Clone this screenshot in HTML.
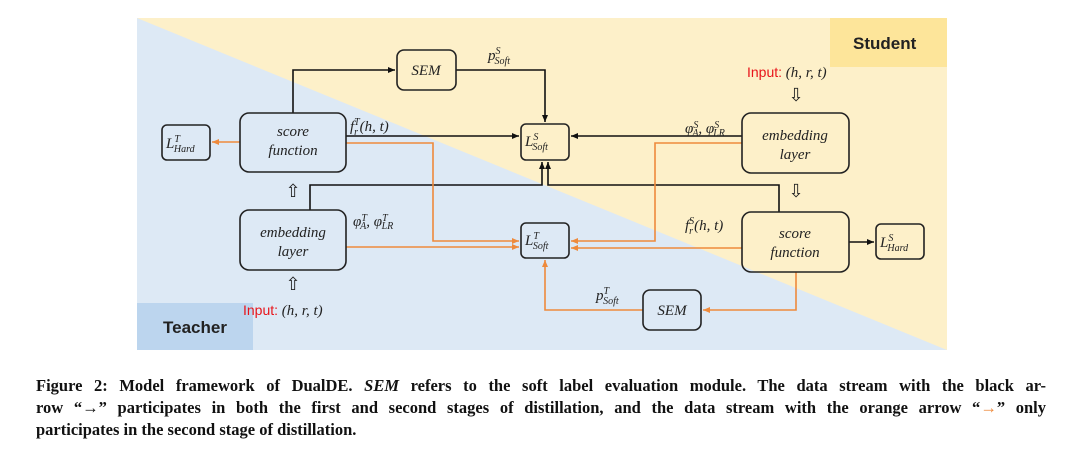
<!DOCTYPE html>
<html><head><meta charset="utf-8"><style>
body{margin:0;background:#fff;width:1080px;height:454px;overflow:hidden;position:relative}
.cap{position:absolute;left:36px;width:1010px;font-family:"Liberation Serif",serif;font-weight:bold;font-size:16.5px;color:#111;white-space:nowrap}
.j{text-align:justify;text-align-last:justify}
svg text{font-family:"Liberation Serif",serif;font-style:italic;fill:#222}
</style></head><body>
<svg width="1080" height="370" style="position:absolute;left:0;top:0">
<defs>
<marker id="ab" markerWidth="8" markerHeight="8" refX="7" refY="4" orient="auto" markerUnits="userSpaceOnUse"><path d="M0,1 L7,4 L0,7z" fill="#111"/></marker>
<marker id="ao" markerWidth="8" markerHeight="8" refX="7" refY="4" orient="auto" markerUnits="userSpaceOnUse"><path d="M0,1 L7,4 L0,7z" fill="#ee8a3c"/></marker>
</defs>
<rect x="137" y="18" width="810" height="332" fill="#fdf0c9"/>
<polygon points="137,18 947,350 137,350" fill="#dde9f5"/>
<rect x="830" y="18" width="117" height="49" fill="#fde59a"/>
<rect x="137" y="303" width="116" height="47" fill="#bcd5ee"/>
<text x="853" y="49" style="font-family:'Liberation Sans',sans-serif;font-style:normal;font-weight:bold;font-size:17px" fill="#111">Student</text>
<text x="163" y="333" style="font-family:'Liberation Sans',sans-serif;font-style:normal;font-weight:bold;font-size:17px" fill="#111">Teacher</text>
<g fill="none" stroke-width="1.6">
<!-- black -->
<polyline points="293,113 293,70 395,70" stroke="#111" marker-end="url(#ab)"/>
<polyline points="456,70 545,70 545,122" stroke="#111" marker-end="url(#ab)"/>
<line x1="346" y1="136" x2="519" y2="136" stroke="#111" marker-end="url(#ab)"/>
<line x1="742" y1="136" x2="571" y2="136" stroke="#111" marker-end="url(#ab)"/>
<polyline points="310,210 310,185 542,185 542,162" stroke="#111" marker-end="url(#ab)"/>
<polyline points="779,212 779,185 548,185 548,162" stroke="#111" marker-end="url(#ab)"/>
<line x1="849" y1="242" x2="874" y2="242" stroke="#111" marker-end="url(#ab)"/>
<!-- orange -->
<line x1="240" y1="142" x2="212" y2="142" stroke="#ee8a3c" marker-end="url(#ao)"/>
<polyline points="346,143 433,143 433,241 519,241" stroke="#ee8a3c" marker-end="url(#ao)"/>
<line x1="346" y1="247" x2="519" y2="247" stroke="#ee8a3c" marker-end="url(#ao)"/>
<polyline points="742,143 655,143 655,241 571,241" stroke="#ee8a3c" marker-end="url(#ao)"/>
<line x1="742" y1="248" x2="571" y2="248" stroke="#ee8a3c" marker-end="url(#ao)"/>
<polyline points="796,272 796,310 703,310" stroke="#ee8a3c" marker-end="url(#ao)"/>
<polyline points="643,310 545,310 545,260" stroke="#ee8a3c" marker-end="url(#ao)"/>
</g>
<g fill="none" stroke="#222" stroke-width="1.6">
<rect x="397" y="50" width="59" height="40" rx="7"/>
<rect x="240" y="113" width="106" height="59" rx="9"/>
<rect x="162" y="125" width="48" height="35" rx="5"/>
<rect x="521" y="124" width="48" height="36" rx="5"/>
<rect x="240" y="210" width="106" height="60" rx="9"/>
<rect x="521" y="223" width="48" height="35" rx="5"/>
<rect x="742" y="113" width="107" height="60" rx="9"/>
<rect x="742" y="212" width="107" height="60" rx="9"/>
<rect x="876" y="224" width="48" height="35" rx="5"/>
<rect x="643" y="290" width="58" height="40" rx="7"/>
</g>
<g font-size="15" text-anchor="middle">
<text x="426" y="75">SEM</text><text x="672" y="315">SEM</text>
<text x="293" y="136">score</text><text x="293" y="155">function</text>
<text x="293" y="237">embedding</text><text x="293" y="256">layer</text>
<text x="795" y="140">embedding</text><text x="795" y="159">layer</text>
<text x="795" y="238">score</text><text x="795" y="257">function</text>
</g>
<g font-size="15">
<text x="166" y="148">L<tspan font-size="10" dy="-6">T</tspan><tspan font-size="10" dx="-6" dy="10">Hard</tspan></text>
<text x="880" y="247">L<tspan font-size="10" dy="-6">S</tspan><tspan font-size="10" dx="-6" dy="10">Hard</tspan></text>
<text x="525" y="146">L<tspan font-size="10" dy="-6">S</tspan><tspan font-size="10" dx="-6" dy="10">Soft</tspan></text>
<text x="525" y="245">L<tspan font-size="10" dy="-6">T</tspan><tspan font-size="10" dx="-6" dy="10">Soft</tspan></text>
<text x="488" y="60">p<tspan font-size="10" dy="-6">S</tspan><tspan font-size="10" dx="-6" dy="10">Soft</tspan></text>
<text x="596" y="300">p<tspan font-size="10" dy="-6">T</tspan><tspan font-size="10" dx="-6" dy="10">Soft</tspan></text>
<text x="350" y="131">f<tspan font-size="10" dy="4">r</tspan><tspan font-size="10" dx="-4" dy="-10">T</tspan><tspan dy="6">(h, t)</tspan></text>
<text x="685" y="230">f<tspan font-size="10" dy="4">r</tspan><tspan font-size="10" dx="-4" dy="-10">S</tspan><tspan dy="6">(h, t)</tspan></text>
<text x="353" y="226">φ<tspan font-size="10" dy="-5">T</tspan><tspan font-size="10" dx="-6" dy="8">A</tspan><tspan dy="-3">, φ</tspan><tspan font-size="10" dy="-5">T</tspan><tspan font-size="10" dx="-6" dy="8">LR</tspan></text>
<text x="685" y="133">φ<tspan font-size="10" dy="-5">S</tspan><tspan font-size="10" dx="-6" dy="8">A</tspan><tspan dy="-3">, φ</tspan><tspan font-size="10" dy="-5">S</tspan><tspan font-size="10" dx="-6" dy="8">LR</tspan></text>
<text x="243" y="315"><tspan style="font-family:'Liberation Sans',sans-serif;font-style:normal" fill="#e8141a" font-size="14">Input:</tspan> (h, r, t)</text>
<text x="747" y="77"><tspan style="font-family:'Liberation Sans',sans-serif;font-style:normal" fill="#e8141a" font-size="14">Input:</tspan> (h, r, t)</text>
</g>
<g font-size="18" style="font-style:normal" text-anchor="middle" fill="#222">
<text x="293" y="197" style="font-style:normal">⇧</text>
<text x="293" y="290" style="font-style:normal">⇧</text>
<text x="796" y="101" style="font-style:normal">⇩</text>
<text x="796" y="197" style="font-style:normal">⇩</text>
</g>
</svg>
<div class="cap j" style="top:376px">Figure 2: Model framework of DualDE. <i>SEM</i> refers to the soft label evaluation module. The data stream with the black ar-</div>
<div class="cap j" style="top:398px">row “→” participates in both the first and second stages of distillation, and the data stream with the orange arrow “<span style="color:#ee8a3c">→</span>” only</div>
<div class="cap" style="top:420px">participates in the second stage of distillation.</div>
</body></html>
